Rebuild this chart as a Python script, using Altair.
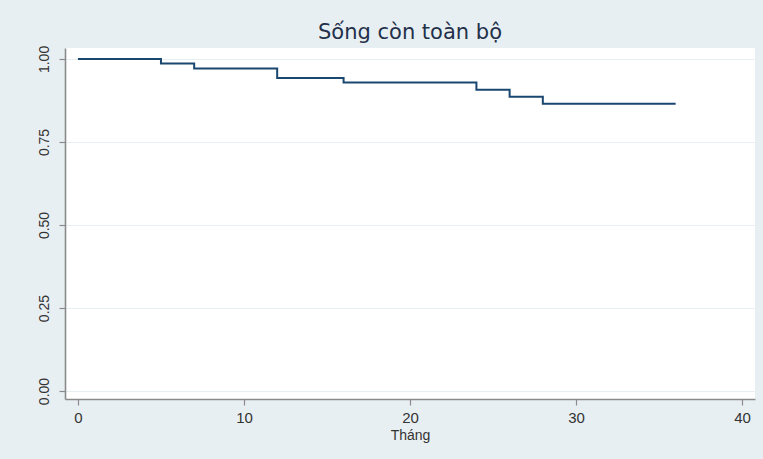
import altair as alt
import pandas as pd

# Kaplan-Meier step points (month, survival)
months = [0, 5, 7, 12, 16, 24, 26, 28, 36]
survival = [1.0, 0.986, 0.971, 0.943, 0.929, 0.907, 0.886, 0.865, 0.865]

x_ticks = [0, 10, 20, 30, 40]
y_ticks = [0.0, 0.25, 0.5, 0.75, 1.0]

df = pd.DataFrame({"month": months, "surv": survival})

BG = "#e8eff2"
NAVY = "#1a476f"

chart = (
    alt.Chart(df)
    .mark_line(interpolate="step-after", color=NAVY, strokeWidth=2, clip=True)
    .encode(
        x=alt.X(
            "month:Q",
            title="Tháng",
            scale=alt.Scale(domain=[-0.78, 40.78], nice=False, zero=False),
            axis=alt.Axis(
                values=x_ticks,
                format="d",
                grid=False,
                labelFontSize=15,
                labelPadding=5,
                titleFontSize=14,
                titleFontWeight="normal",
                titlePadding=3,
            ),
        ),
        y=alt.Y(
            "surv:Q",
            title=None,
            scale=alt.Scale(domain=[-0.024, 1.033], nice=False, zero=False),
            axis=alt.Axis(
                values=y_ticks,
                format=".2f",
                grid=True,
                gridColor="#e6eff1",
                gridWidth=1.2,
                labelAngle=270,
                labelAlign="center",
                labelBaseline="bottom",
                labelFontSize=14,
                labelPadding=8,
            ),
        ),
    )
    .properties(
        width=690,
        height=351,
        background=BG,
        padding={"left": 65, "top": 48, "right": 8, "bottom": 60},
        autosize=alt.AutoSizeParams(type="none"),
        title=alt.TitleParams(
            "Sống còn toàn bộ",
            fontSize=21,
            font="DejaVu Sans",
            fontWeight="normal",
            color="#23304a",
            anchor="middle",
            offset=2,
        ),
    )
    .configure_view(fill="white", stroke=None)
    .configure_axis(
        domainColor="#8a8a8a",
        domainWidth=1.6,
        tickColor="#8a8a8a",
        tickWidth=1.2,
        tickSize=6,
        labelColor="#333333",
        titleColor="#333333",
        labelFont="Liberation Sans",
        titleFont="Liberation Sans",
    )
)

chart.save("out.html", embed_options={"renderer": "svg", "actions": False})
